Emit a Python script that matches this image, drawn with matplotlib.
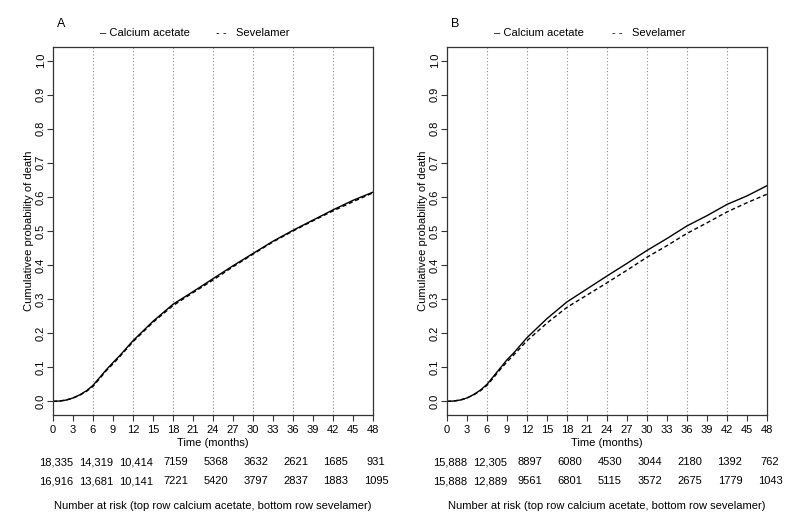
import matplotlib
matplotlib.use('Agg')
import matplotlib.pyplot as plt
import numpy as np

plt.rcParams['font.family'] = ['Liberation Sans', 'DejaVu Sans']

# months at which the curves were read
months = [0, 1, 2, 3, 4, 5, 6, 7, 8, 9, 10, 12, 15, 18, 21, 24, 27, 30, 33, 36, 39, 42, 45, 48]

# panel A
a_calcium = [0, 0.001, 0.004, 0.010, 0.019, 0.031, 0.047, 0.070, 0.093, 0.114, 0.134, 0.178,
             0.235, 0.285, 0.322, 0.360, 0.398, 0.434, 0.470, 0.502, 0.532, 0.562, 0.590, 0.614]
a_sevelamer = [0, 0.001, 0.004, 0.010, 0.018, 0.029, 0.044, 0.067, 0.090, 0.110, 0.131, 0.175,
               0.232, 0.281, 0.319, 0.356, 0.395, 0.432, 0.468, 0.500, 0.530, 0.559, 0.586, 0.612]

# panel B
b_calcium = [0, 0.001, 0.004, 0.010, 0.020, 0.033, 0.050, 0.074, 0.098, 0.122, 0.142, 0.187,
             0.243, 0.292, 0.330, 0.368, 0.405, 0.443, 0.478, 0.515, 0.545, 0.578, 0.603, 0.633]
b_sevelamer = [0, 0.001, 0.004, 0.010, 0.019, 0.031, 0.047, 0.070, 0.094, 0.116, 0.136, 0.178,
               0.230, 0.276, 0.312, 0.348, 0.385, 0.423, 0.457, 0.493, 0.524, 0.556, 0.583, 0.608]

risk_times = [0, 6, 12, 18, 24, 30, 36, 42, 48]
a_risk_ca = ['18,335', '14,319', '10,414', '7159', '5368', '3632', '2621', '1685', '931']
a_risk_sev = ['16,916', '13,681', '10,141', '7221', '5420', '3797', '2837', '1883', '1095']
b_risk_ca = ['15,888', '12,305', '8897', '6080', '4530', '3044', '2180', '1392', '762']
b_risk_sev = ['15,888', '12,889', '9561', '6801', '5115', '3572', '2675', '1779', '1043']

fig = plt.figure(figsize=(8, 5.28), dpi=100)
fs = 8


def draw_panel(left, label, ca, sev, risk_ca, risk_sev, leg_sev_x):
    ax = fig.add_axes([left, 0.214, 0.4, 0.697])
    for t in range(6, 48, 6):
        ax.axvline(t, color='#888888', ls=(0, (1, 2)), lw=0.8, zorder=0)
    ax.plot(months, ca, color='black', lw=1.0)
    ax.plot(months, sev, color='black', lw=1.0, ls=(0, (3, 2)))
    ax.set_xlim(0, 48)
    ax.set_ylim(-0.04, 1.04)
    ax.set_xticks(range(0, 49, 3))
    ax.set_yticks(np.arange(0, 1.01, 0.1))
    ax.set_yticklabels(['%.1f' % v for v in np.arange(0, 1.01, 0.1)], rotation=90, va='center')
    ax.tick_params(labelsize=fs, length=4, width=0.8, color='#333333')
    ax.tick_params(axis='x', pad=3)
    ax.tick_params(axis='y', pad=1)
    for s in ax.spines.values():
        s.set_linewidth(0.9)
        s.set_color('#333333')
    ax.set_xlabel('Time (months)', fontsize=fs, labelpad=2)
    ax.set_ylabel('Cumulativee probability of death', fontsize=fs)
    ax.yaxis.set_label_coords(-0.058, 0.5)

    ax.text(0.012, 1.063, label, transform=ax.transAxes, fontsize=fs + 1, ha='left', va='center')
    ax.text(0.147, 1.038, '\u2013 Calcium acetate', transform=ax.transAxes, fontsize=fs,
            ha='left', va='center')
    ax.text(leg_sev_x, 1.038, '- -   Sevelamer', transform=ax.transAxes, fontsize=fs,
            ha='left', va='center')

    # number at risk table
    tr = ax.get_xaxis_transform()
    for t, a, b in zip(risk_times, risk_ca, risk_sev):
        ax.text(t + 0.45, -0.128, a, transform=tr, fontsize=fs, ha='center', va='center')
        ax.text(t + 0.45, -0.18, b, transform=tr, fontsize=fs, ha='center', va='center')
    ax.text(24, -0.247, 'Number at risk (top row calcium acetate, bottom row sevelamer)',
            transform=tr, fontsize=fs, ha='center', va='center')
    return ax


draw_panel(53 / 800, 'A', a_calcium, a_sevelamer, a_risk_ca, a_risk_sev, 0.508)
draw_panel(447 / 800, 'B', b_calcium, b_sevelamer, b_risk_ca, b_risk_sev, 0.516)

fig.savefig('out.png', dpi=100)
